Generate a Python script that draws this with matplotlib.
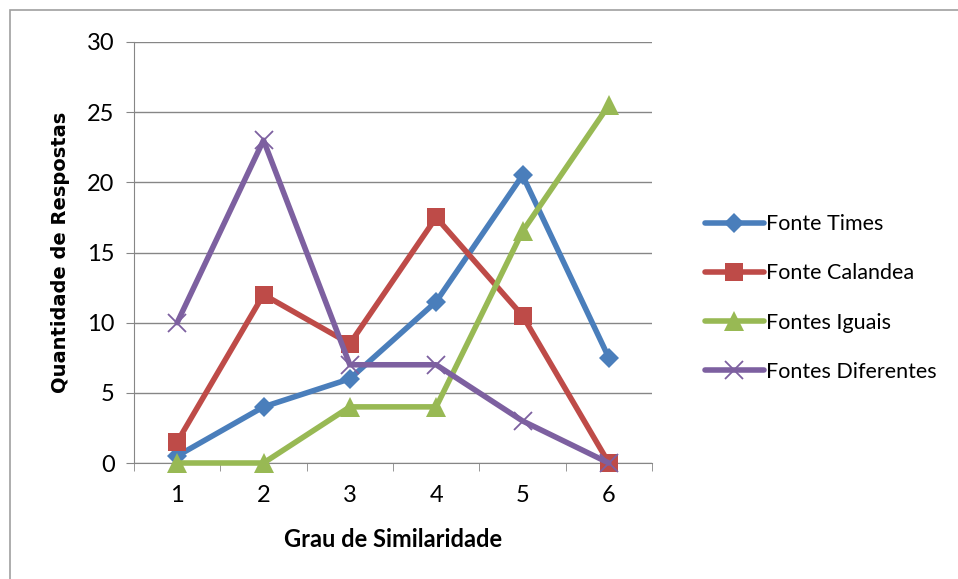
import matplotlib
matplotlib.use("Agg")
import matplotlib.pyplot as plt
from matplotlib.patches import Rectangle

categories = [1, 2, 3, 4, 5, 6]
fonte_times = [0.5, 4, 6, 11.5, 20.5, 7.5]
fonte_calandea = [1.5, 12, 8.5, 17.5, 10.5, 0]
fontes_iguais = [0, 0, 4, 4, 16.5, 25.5]
fontes_diferentes = [10, 23, 7, 7, 3, 0]
y_ticks = [0, 5, 10, 15, 20, 25, 30]

plt.rcParams['font.family'] = ['Lato', 'DejaVu Sans']

fig = plt.figure(figsize=(9.58, 5.79), dpi=100)
fig.patches.append(Rectangle((10/958, -0.01), 1.0, 1 - 10/579 + 0.01, transform=fig.transFigure,
                             fill=False, edgecolor='#a0a0a0', linewidth=1.2))
ax = fig.add_axes([134/958, 1 - 463/579, (652 - 134)/958, (463 - 42)/579])

series = [
    ("Fonte Times", fonte_times, '#4a7ebb', 'D', 10),
    ("Fonte Calandea", fonte_calandea, '#be4b48', 's', 13),
    ("Fontes Iguais", fontes_iguais, '#98b954', '^', 14),
    ("Fontes Diferentes", fontes_diferentes, '#7d60a0', 'x', 13),
]
for name, vals, c, m, ms in series:
    kw = dict(markeredgewidth=1.3) if m == 'x' else dict(markeredgewidth=0)
    ax.plot(categories, vals, color=c, linewidth=4, marker=m, markersize=ms,
            label=name, solid_capstyle='round', clip_on=False, zorder=3, **kw)

ax.set_xlim(0.5, 6.5)
ax.set_ylim(0, 30)
ax.set_yticks(y_ticks)
ax.set_xticks(categories)
ax.set_xticks([c + 0.5 for c in [0] + categories], minor=True)
ax.tick_params(axis='x', which='major', length=0, labelsize=17, pad=16)
ax.tick_params(axis='x', which='minor', length=6, color='#868686', direction='out')
ax.tick_params(axis='y', length=6, color='#868686', labelsize=17, pad=8)
ax.grid(axis='y', color='#868686', linewidth=1)
for s in ['top', 'right']:
    ax.spines[s].set_visible(False)
ax.spines['left'].set_color('#868686')
ax.spines['bottom'].set_color('#868686')
ax.set_axisbelow(True)

ax.set_xlabel("Grau de Similaridade", fontsize=17, fontweight='bold', labelpad=16)
ax.set_ylabel("Quantidade de Respostas", fontsize=14, fontweight='bold', labelpad=12,
              family=['DejaVu Sans'])

ax.legend(loc='center left', bbox_to_anchor=(686/958, 1 - 298/579), bbox_transform=fig.transFigure,
          frameon=False, fontsize=15.5, handlelength=2.7, handletextpad=0.1, labelspacing=1.35)

fig.savefig("out.png", dpi=100)
